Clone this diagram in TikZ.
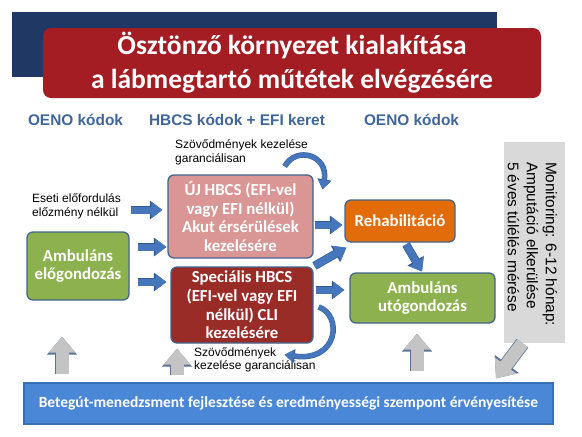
\documentclass[tikz,border=0pt]{standalone}
\usepackage{fontspec}
\setmainfont{Carlito}
\newfontfamily\arialfont{Liberation Sans}
\usetikzlibrary{arrows.meta}
\definecolor{bandblue}{HTML}{1F3864}
\definecolor{titlered}{HTML}{A31D22}
\definecolor{headblue}{HTML}{3E6699}
\definecolor{boxline}{HTML}{43648C}
\definecolor{pinkfill}{HTML}{D99694}
\definecolor{redfill}{HTML}{9A2C28}
\definecolor{greenfill}{HTML}{8DB14E}
\definecolor{orangefill}{HTML}{E36C0A}
\definecolor{arrowfill}{HTML}{4677BD}
\definecolor{arrowline}{HTML}{305A94}
\definecolor{grayfill}{HTML}{C4C4C4}
\definecolor{grayline}{HTML}{5B7394}
\definecolor{monfill}{HTML}{D9D9D9}
\definecolor{barfill}{HTML}{4A87D6}
\definecolor{barline}{HTML}{3A6FB5}

\begin{document}
\begin{tikzpicture}[x=1pt,y=-1pt,
    box/.style={draw=boxline, line width=1.3pt, rounded corners=6pt, text=white, align=center,
      font=\bfseries\fontsize{16.8}{18.6}\selectfont, inner sep=1pt},
    note/.style={font=\arialfont\fontsize{12}{13.5}\selectfont, align=left, anchor=west, inner sep=0pt},
    colhead/.style={font=\arialfont\bfseries\fontsize{15.4}{18}\selectfont, text=headblue},
    bluearrow/.style={draw=arrowfill, line width=7pt, -{Triangle[width=16pt,length=11pt]},
      preaction={draw=arrowline, line width=8.4pt, -{Triangle[width=18pt,length=12.5pt]}}},
    grayarrow/.style={draw=grayfill, line width=13pt, -{Triangle[width=26pt,length=16pt]},
      preaction={draw=grayline, line width=14.6pt, -{Triangle[width=29pt,length=18pt]}}},
    curvearrow/.style={draw=arrowfill, line width=4.5pt, -{Triangle[width=12pt,length=9pt]},
      preaction={draw=arrowline, line width=5.5pt, -{Triangle[width=13.5pt,length=10pt]}}}]

    \useasboundingbox (0,0) rectangle (582,437);
    \fill[bandblue] (12,12) rectangle (497,77);
    \node[fill=titlered, rounded corners=8pt, minimum width=498pt, minimum height=70pt, text=white,
      align=center, font=\bfseries\fontsize{27.5}{34}\selectfont] (title) at (292,63)
      {Ösztönző környezet kialakítása\\a lábmegtartó műtétek elvégzésére};

    \node[colhead] (oeno1) at (75.5,120) {OENO kódok};
    \node[colhead] (hbcs) at (237,120) {HBCS kódok + EFI keret};
    \node[colhead] (oeno2) at (411.5,120) {OENO kódok};

    \node[box, fill=pinkfill, minimum width=145pt, minimum height=83pt] (pink) at (240.5,216.5)
      {ÚJ HBCS (EFI-vel\\vagy EFI nélkül)\\Akut érsérülések\\kezelésére};
    \node[box, fill=redfill, minimum width=142pt, minimum height=76pt] (dred) at (242,305)
      {Speciális HBCS\\(EFI-vel vagy EFI\\nélkül) CLI\\kezelésére};
    \node[box, fill=greenfill, minimum width=102pt, minimum height=68pt] (amb1) at (78,266)
      {Ambuláns\\előgondozás};
    \node[box, fill=orangefill, minimum width=110pt, minimum height=42pt] (rehab) at (400,221)
      {Rehabilitáció};
    \node[box, fill=greenfill, minimum width=145pt, minimum height=50pt] (amb2) at (422.5,298)
      {Ambuláns\\utógondozás};
    \node[fill=monfill, minimum width=61pt, minimum height=201pt] (mon) at (534.5,242.5) {};
    \node[rotate=-90, anchor=west, align=left, inner sep=0pt, font=\arialfont\fontsize{15.4}{19}\selectfont]
      (montext) at ([xshift=-2pt,yshift=-20pt]mon.north)
      {Monitoring: 6-12 hónap:\\Amputáció elkerülése\\5 éves túlélés mérése};
    \node[draw=barline, line width=1.3pt, fill=barfill, minimum width=529pt, minimum height=41pt,
      text=white, font=\bfseries\fontsize{15.5}{18}\selectfont] (bar) at (288.5,403.5)
      {Betegút-menedzsment fejlesztése és eredményességi szempont érvényesítése};

    \node[note] (eseti) at (32,206.5) {Eseti előfordulás\\előzmény nélkül};
    \node[note] (szov1) at (175,152.5) {Szövődmények kezelése\\garanciálisan};
    \node[note] (szov2) at (194,360) {Szövődmények\\kezelése garanciálisan};

    \foreach \a/\b/\y/\s/\t in {eseti/pink/210/10pt/5pt, amb1/pink/247/8pt/1pt, amb1/dred/282/8pt/4pt,
      pink/rehab/225/1pt/2pt, dred/amb2/290/2pt/5pt}
      \draw[bluearrow, shorten <=\s, shorten >=\t] (\a.east |- 0,\y) -- (\b.west |- 0,\y);
    \draw[bluearrow, shorten <=1pt] (dred.north east) -- ([shift={(2pt,-5pt)}]rehab.south west);
    \draw[bluearrow, shorten <=2pt, shorten >=1pt] ([xshift=5pt]rehab.south) -- (amb2.north);

    \draw[curvearrow] ([shift={(-29pt,8pt)}]pink.north east) .. controls +(12,-21) and +(6,-34)
      .. ([shift={(9pt,-15pt)}]pink.north east);
    \draw[curvearrow] ([shift={(5pt,-2pt)}]dred.east) .. controls +(24,8) and +(54,8)
      .. ([shift={(-29pt,-11pt)}]dred.south east);

    \foreach \x/\n/\s/\t in {62/amb1/8pt/36pt, 177/dred/7pt/5pt, 417/amb2/11pt/10pt}
      \draw[grayarrow, shorten <=\s, shorten >=\t] (bar.north -| \x,0) -- (\n.south -| \x,0);
    \draw[grayarrow, shorten >=5pt] ([xshift=-12pt]mon.south) -- (bar.north -| 493,0);
\end{tikzpicture}
\end{document}
